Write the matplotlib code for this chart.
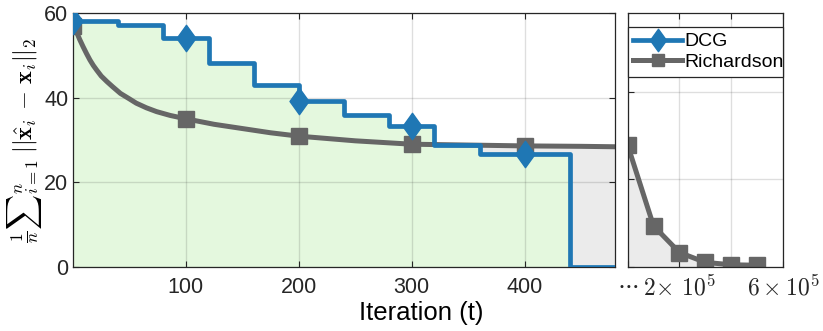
import matplotlib
matplotlib.use("Agg")
import matplotlib.pyplot as plt
from matplotlib.path import Path

# data
dcg_t = [0, 20, 40, 60, 80, 100, 120, 140, 160, 180, 200, 220, 240,
         260, 280, 300, 320, 340, 360, 380, 400, 420, 440, 460, 480]
dcg_v = [58.2, 58.2, 57.2, 57.2, 54.0, 54.0, 48.3, 48.3, 43.0, 43.0, 39.2, 39.2, 35.9,
         35.9, 33.4, 33.4, 28.9, 28.9, 26.7, 26.7, 26.7, 26.7, 0.0, 0.0, 0.0]

rich_t = [0, 3, 6, 9, 12, 15, 18, 21, 25, 30, 35, 42, 50, 56, 65, 74, 86, 100,
          125, 150, 175, 200, 250, 300, 350, 400, 450, 480]
rich_v = [57.0, 55.6, 53.7, 52.0, 50.4, 48.9, 47.6, 46.5, 45.1, 43.8, 42.6, 41.0, 39.7,
          38.7, 37.6, 36.7, 35.8, 35.0, 33.7, 32.7, 31.7, 30.9, 29.8, 29.0, 28.8, 28.6,
          28.5, 28.4]
rich_marks = [0, 17, 21, 23, 25]

tail_t = [0, 1e5, 2e5, 3e5, 4e5, 5e5]
tail_v = [27.9, 9.4, 3.3, 1.05, 0.5, 0.4]
tail_ticks = [0, 2e5, 4e5, 6e5]
tail_labels = [r"$\cdots$", r"$2\!\times\, 10^5$", "", r"$6\times10^5$"]

blue = "#1f77b4"
grey = "#666666"
green_fill = "#e4f8de"
grey_fill = "#ebebeb"
dark = "#262626"

plt.rcParams["font.family"] = ["Liberation Sans", "DejaVu Sans"]
plt.rcParams["mathtext.fontset"] = "cm"

diamond = Path([(0, 1), (0.72, 0), (0, -1), (-0.72, 0), (0, 1)],
               [Path.MOVETO, Path.LINETO, Path.LINETO, Path.LINETO, Path.CLOSEPOLY])

fig = plt.figure(figsize=(8.23, 3.31), dpi=100)
ax = fig.add_axes([0.0887, 0.1934, 0.6586, 0.7674])
ax2 = fig.add_axes([0.7625, 0.1934, 0.1893, 0.7674])

# left panel
ax.fill_between(rich_t, rich_v, color=grey_fill, lw=0, zorder=0.5)
ax.fill_between(dcg_t, dcg_v, step="post", color=green_fill, lw=0, zorder=0.6)
ax.plot(dcg_t, dcg_v, drawstyle="steps-post", color=blue, lw=3.4,
        marker=diamond, ms=19, mew=1, markevery=5, label="DCG", zorder=3)
ax.plot(rich_t, rich_v, color=grey, lw=3.6, marker="s", ms=11, mew=1,
        markevery=rich_marks, label="Richardson", zorder=2.5)

ax.set_xlim(0, 480)
ax.set_ylim(0, 60)
ax.set_xticks([100, 200, 300, 400])
ax.set_yticks([0, 20, 40, 60])
ax.set_ylabel(r"$\frac{1}{n}{\sum}_{i=1}^{n}\;||\hat{\mathbf{x}}_i\, -\, \mathbf{x}_i||_2$",
              fontsize=17.5, labelpad=0)

# right panel
ax2.fill_between(tail_t, tail_v, color=grey_fill, lw=0, zorder=0.5)
ax2.plot(tail_t, tail_v, color=grey, lw=3.6, marker="s", ms=11, mew=1, zorder=2.5)
ax2.set_xlim(0, 6e5)
ax2.set_ylim(0, 58)
ax2.set_xticks(tail_ticks)
ax2.set_xticklabels(tail_labels)
ax2.set_yticks([0, 20, 40])
ax2.tick_params(axis="y", length=0, labelleft=False)

for a in (ax, ax2):
    a.set_axisbelow("line")
    a.grid(True, color=dark, alpha=0.15, lw=1)
    for s in a.spines.values():
        s.set_color(dark)
        s.set_linewidth(0.9)
    a.tick_params(direction="in", length=4.5, width=0.8, colors=dark,
                  labelcolor=dark, top=True)
ax.tick_params(right=True, labelsize=15.5)
ax.tick_params(axis="x", pad=7)
ax2.tick_params(axis="x", pad=6, labelsize=17)

h, l = ax.get_legend_handles_labels()
leg = ax2.legend(h, l, loc="upper left", bbox_to_anchor=(0, 0, 1, 0.945),
                 mode="expand", borderaxespad=0, fontsize=14, borderpad=0.3,
                 labelspacing=0.15, handlelength=2.5, handletextpad=0.1,
                 markerscale=0.85, fancybox=False, framealpha=1)
leg.get_frame().set_edgecolor(dark)
leg.get_frame().set_linewidth(0.9)

fig.text(0.5115, 0.053, "Iteration (t)", fontsize=18.5, ha="center", va="center",
         color="black")

fig.savefig("out.png", dpi=100)
